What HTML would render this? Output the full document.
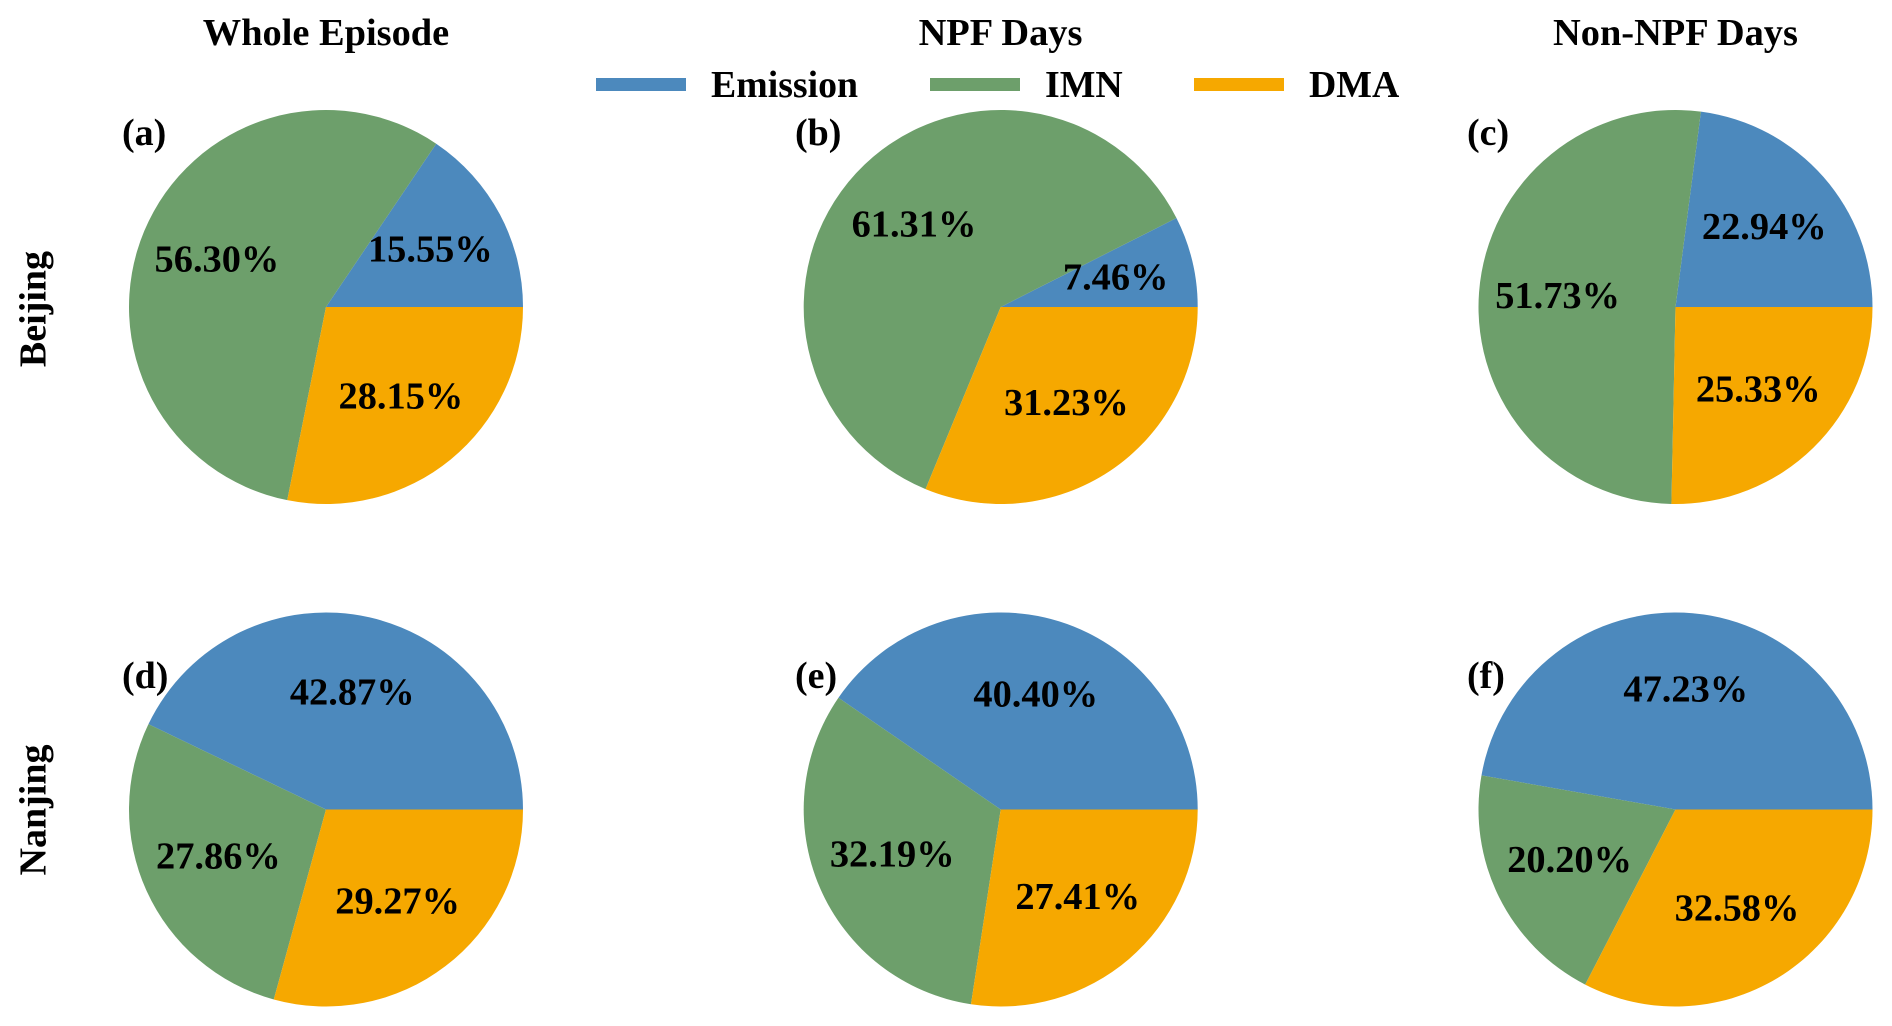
<!DOCTYPE html>
<html lang="en">
<head>
<meta charset="utf-8">
<title>Contribution pie charts for Beijing and Nanjing</title>
<style>
  html, body { margin: 0; padding: 0; background: #ffffff; }
  svg { display: block; }
  text { font-family: "Liberation Serif", serif; font-weight: bold; fill: #000000; }
</style>
</head>
<body>
<svg id="chart" xmlns="http://www.w3.org/2000/svg" width="1892" height="1026" viewBox="0 0 1892 1026">
  <rect x="0" y="0" width="1892" height="1026" fill="#ffffff"/>

  <text x="326" y="45" font-size="38.4" text-anchor="middle">Whole Episode</text>
  <text x="1000.5" y="45" font-size="38.4" text-anchor="middle">NPF Days</text>
  <text x="1675.5" y="45" font-size="38.4" text-anchor="middle">Non-NPF Days</text>

  <text transform="translate(45.5 309) rotate(-90)" font-size="38" text-anchor="middle">Beijing</text>
  <text transform="translate(45.5 810) rotate(-90)" font-size="38" text-anchor="middle">Nanjing</text>

  <g>
    <rect x="596" y="78" width="90" height="13" fill="#4c89bd"/>
    <text x="711" y="97" font-size="37.8">Emission</text>
    <rect x="930" y="78" width="90" height="13" fill="#6d9f6b"/>
    <text x="1045" y="97" font-size="37.8">IMN</text>
    <rect x="1194" y="78" width="90" height="13" fill="#f6a800"/>
    <text x="1309" y="97" font-size="37.8">DMA</text>
  </g>

  <g id="pies"></g>

  <text x="122" y="145" font-size="38">(a)</text>
  <text x="795" y="145" font-size="38">(b)</text>
  <text x="1467" y="145" font-size="38">(c)</text>
  <text x="122" y="688" font-size="38">(d)</text>
  <text x="795" y="688" font-size="38">(e)</text>
  <text x="1467" y="688" font-size="38">(f)</text>
</svg>
<script>
const categories = ['Emission', 'IMN', 'DMA'];
const cities = ['Beijing', 'Nanjing'];
const periods = ['Whole Episode', 'NPF Days', 'Non-NPF Days'];
const beijingWhole = [15.55, 56.30, 28.15];
const beijingNpf = [7.46, 61.31, 31.23];
const beijingNonNpf = [22.94, 51.73, 25.33];
const nanjingWhole = [42.87, 27.86, 29.27];
const nanjingNpf = [40.40, 32.19, 27.41];
const nanjingNonNpf = [47.23, 20.20, 32.58];

const seriesByCity = [
  [beijingWhole, beijingNpf, beijingNonNpf],
  [nanjingWhole, nanjingNpf, nanjingNonNpf]
];
const colours = ['#4c89bd', '#6d9f6b', '#f6a800'];
const columnCentres = [326, 1000.7, 1675.5];
const rowCentres = [307, 809.5];
const radius = 197;
const labelDistance = 0.6;
const labelFontSize = 38.4;
const labelBaselineShift = 10;
const svgNs = 'http://www.w3.org/2000/svg';
const root = document.getElementById('pies');

function angleFor(fraction) {
  return fraction * 2 * Math.PI;
}
function pointX(cx, angle, r) {
  return cx + r * Math.cos(angle);
}
function pointY(cy, angle, r) {
  return cy - r * Math.sin(angle);
}
function slug(text) {
  return text.toLowerCase().replace(/[^a-z0-9]+/g, '-');
}

seriesByCity.forEach(function (cityRow, rowIndex) {
  cityRow.forEach(function (values, colIndex) {
    const cx = columnCentres[colIndex];
    const cy = rowCentres[rowIndex];
    const total = values.reduce(function (a, b) { return a + b; }, 0);
    const panelSlug = slug(cities[rowIndex]) + '-' + slug(periods[colIndex]);

    const group = document.createElementNS(svgNs, 'g');
    
    
    root.appendChild(group);

    let cumulative = 0;
    const labels = [];
    values.forEach(function (value, i) {
      const start = angleFor(cumulative / total);
      cumulative += value;
      const end = angleFor(cumulative / total);
      const mid = (start + end) / 2;
      const large = end - start > Math.PI ? 1 : 0;

      const slice = document.createElementNS(svgNs, 'path');
      slice.setAttribute('d',
        'M' + cx + ' ' + cy +
        'L' + pointX(cx, start, radius) + ' ' + pointY(cy, start, radius) +
        'A' + radius + ' ' + radius + ' 0 ' + large + ' 0 ' +
        pointX(cx, end, radius) + ' ' + pointY(cy, end, radius) + 'Z');
      slice.setAttribute('fill', colours[i]);
      
      
      group.appendChild(slice);

      labels.push({ mid: mid, value: value, category: categories[i] });
    });

    labels.forEach(function (item) {
      const label = document.createElementNS(svgNs, 'text');
      label.setAttribute('x', pointX(cx, item.mid, radius * labelDistance));
      label.setAttribute('y', pointY(cy, item.mid, radius * labelDistance) + labelBaselineShift);
      label.setAttribute('text-anchor', 'middle');
      label.setAttribute('font-size', labelFontSize);
      
      
      label.textContent = item.value.toFixed(2) + '%';
      group.appendChild(label);
    });
  });
});
</script>
</body>
</html>
